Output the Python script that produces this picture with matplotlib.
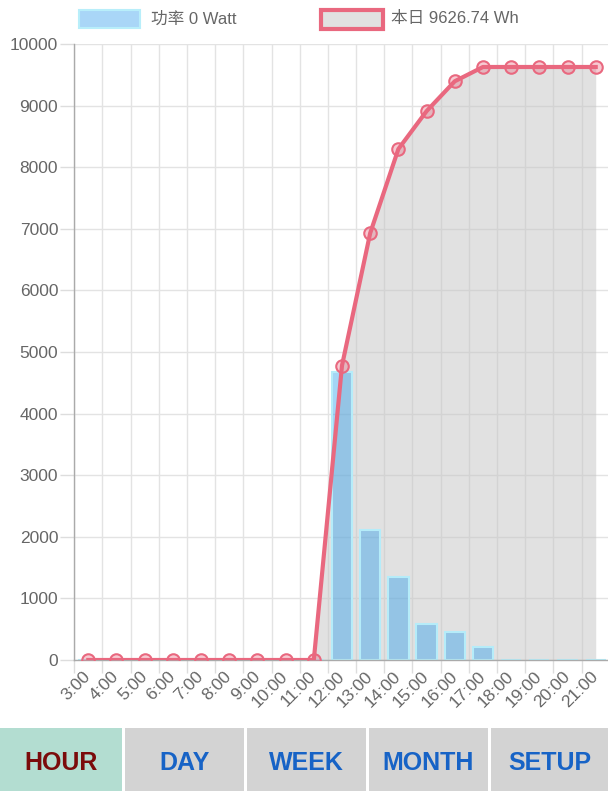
import matplotlib
matplotlib.use("Agg")
import matplotlib.pyplot as plt
from matplotlib.patches import Rectangle
import numpy as np

plt.rcParams['font.family'] = ['Liberation Sans', 'Noto Sans CJK SC', 'DejaVu Sans']

hours = ["3:00", "4:00", "5:00", "6:00", "7:00", "8:00", "9:00", "10:00", "11:00",
         "12:00", "13:00", "14:00", "15:00", "16:00", "17:00", "18:00", "19:00",
         "20:00", "21:00"]
power = [0, 0, 0, 0, 0, 0, 0, 0, 0, 4670, 2110, 1345, 580, 460, 205, 0, 0, 0, 0]
energy = [0, 0, 0, 0, 0, 0, 0, 0, 0, 4780, 6930, 8295, 8910, 9395, 9626.74,
          9626.74, 9626.74, 9626.74, 9626.74]
legend_labels = ["功率 0 Watt", "本日 9626.74 Wh"]
buttons = ["HOUR", "DAY", "WEEK", "MONTH", "SETUP"]
y_ticks = list(range(0, 10001, 1000))

W, H = 608, 791
fig = plt.figure(figsize=(W / 100, H / 100), dpi=100)

def fx(px):
    return px / W

def fy(py):
    return 1 - py / H

left, right, top, bottom = 74.2, 609.8, 44, 660
ax = fig.add_axes([fx(left), fy(bottom), fx(right - left), (bottom - top) / H])
x = np.arange(len(hours))

grid_c = '#e3e3e3'
# gridlines
for b in np.arange(-0.5, len(hours), 1.0):
    ax.axvline(b, color=grid_c, lw=1, zorder=0)
for t in y_ticks:
    ax.axhline(t, color=grid_c, lw=1, zorder=0)

ax.fill_between(x, energy, 0, color='#c4c4c4', alpha=0.5, lw=0, zorder=1)
ax.bar(x, power, width=0.72, color=(54/255, 162/255, 235/255, 0.45),
       edgecolor='#b5ecf9', lw=1.5, zorder=2)
line_c = '#e9687f'
ax.plot(x, energy, color=line_c, lw=3, zorder=3)
ax.plot(x, energy, ls='none', marker='o', ms=9, mfc=(233/255, 104/255, 127/255, 0.35),
        mec=line_c, mew=1.5, zorder=4)

ax.set_xlim(-0.5, len(hours) - 0.5)
ax.set_ylim(0, 10000)
ax.set_yticks(y_ticks)
ax.set_yticklabels([str(t) for t in y_ticks], fontsize=12.5, color='#666666')
ax.set_xticks(np.arange(-0.5, len(hours), 1.0), minor=False)
ax.set_xticklabels([])
ax.set_xticks(x, minor=True)
ax.set_xticklabels(hours, minor=True, rotation=45, ha='right', va='center',
                   rotation_mode='anchor', fontsize=12.5, color='#666666')
ax.tick_params(axis='x', which='major', length=9, color='#dddddd', width=1)
ax.tick_params(axis='x', which='minor', length=0, pad=10)
ax.tick_params(axis='y', length=10, color='#dddddd', width=1, pad=1.5)
for s in ['top', 'right']:
    ax.spines[s].set_visible(False)
for s in ['left', 'bottom']:
    ax.spines[s].set_color('#aaaaaa')
    ax.spines[s].set_linewidth(1)

# legend
fig.patches.append(Rectangle((fx(79), fy(28)), fx(61), 18 / H, transform=fig.transFigure,
                             facecolor='#a9d6f7', edgecolor='#b8eefa', lw=1.5))
fig.text(fx(151), fy(19), legend_labels[0], fontsize=12, color='#666666', va='center')
fig.patches.append(Rectangle((fx(321), fy(29)), fx(62), 19 / H, transform=fig.transFigure,
                             facecolor='#e1e1e1', edgecolor=line_c, lw=3))
fig.text(fx(391), fy(19), legend_labels[1], fontsize=12, color='#666666', va='center')

# buttons
btn_x = [0, 125, 247, 369, 491]
btn_w = [121.7, 119, 119, 119, 117]
for i, (lbl, bx, bw) in enumerate(zip(buttons, btn_x, btn_w)):
    fc = '#b3ddd1' if i == 0 else '#d3d3d3'
    tc = '#7b0b0b' if i == 0 else '#1763c6'
    fig.patches.append(Rectangle((fx(bx), 0), fx(bw), (H - 727.5) / H,
                                 transform=fig.transFigure, facecolor=fc, lw=0))
    fig.text(fx(bx + bw / 2), fy(763), lbl, fontsize=18, fontweight='bold', color=tc,
             ha='center', va='center')

fig.savefig('out.png', dpi=100)
